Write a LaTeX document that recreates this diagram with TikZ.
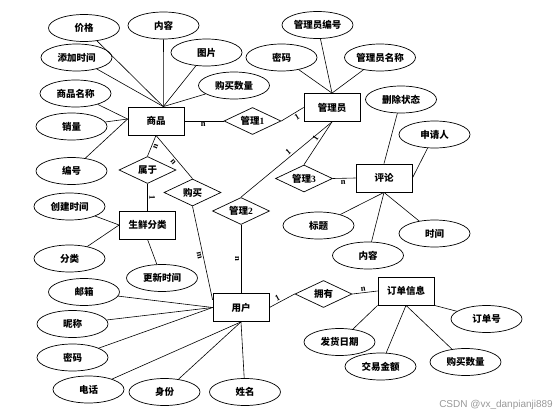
\documentclass[tikz,border=0pt]{standalone}
\usepackage{fontspec}
\setmainfont{Liberation Serif}
\newfontfamily\cjk{Noto Sans CJK SC}
\newfontfamily\wmfont{Liberation Sans}
\usetikzlibrary{shapes.geometric}
\begin{document}
\begin{tikzpicture}[x=1pt,y=-1pt,
 lbl/.style={font=\cjk\bfseries\fontsize{9.5}{10}\selectfont},
 ent/.style={lbl, draw, line width=0.8pt, minimum width=56pt, minimum height=28pt, inner sep=0pt},
 rel/.style={lbl, draw, diamond, aspect=2, line width=0.7pt, minimum width=57pt, minimum height=27pt, inner sep=0pt},
 att/.style={lbl, draw, ellipse, line width=0.7pt, minimum width=71pt, minimum height=27pt, inner sep=0pt},
 lnk/.style={line width=0.6pt},
 card/.style={font=\bfseries\fontsize{8.5}{9}\selectfont, inner sep=1.5pt, sloped}
]
\fill[white] (0,0) rectangle (556,417);
\useasboundingbox (0,0) rectangle (556,417);

% entities
\node[ent] (sp) at (156,121) {商品};
\node[ent] (mgr) at (332,107.5) {管理员};
\node[ent] (cmt) at (384,178) {评论};
\node[ent] (cat) at (147.5,225) {生鲜分类};
\node[ent] (user) at (241,307.5) {用户};
\node[ent] (order) at (406,291) {订单信息};

% relations
\node[rel] (r1) at (252.5,121) {管理{\rmfamily 1}};
\node[rel] (rs) at (147.5,170) {属于};
\node[rel] (rb) at (192.5,192.5) {购买};
\node[rel] (r2) at (241,211) {管理{\rmfamily 2}};
\node[rel] (r3) at (304,178.5) {管理{\rmfamily 3}};
\node[rel] (ry) at (323.5,294) {拥有};

% attributes of 商品
\node[att] (a1) at (84,28) {价格};
\node[att] (a2) at (163.5,25.5) {内容};
\node[att] (a3) at (76.5,57.5) {添加时间};
\node[att] (a4) at (206.5,52.5) {图片};
\node[att] (a5) at (234,85.5) {购买数量};
\node[att] (a6) at (75.5,93.5) {商品名称};
\node[att] (a7) at (71.5,126.5) {销量};
\node[att] (a8) at (71.5,171) {编号};
% attributes of 生鲜分类
\node[att] (c1) at (69.5,206.5) {创建时间};
\node[att] (c2) at (69.5,258.5) {分类};
\node[att] (c3) at (162,278) {更新时间};
% attributes of 用户
\node[att] (u1) at (84,292) {邮箱};
\node[att] (u2) at (72.5,324) {昵称};
\node[att] (u3) at (72.5,357.5) {密码};
\node[att] (u4) at (88.5,389.5) {电话};
\node[att] (u5) at (164.5,392) {身份};
\node[att] (u6) at (245,392) {姓名};
% attributes of 管理员
\node[att] (m1) at (317.5,25) {管理员编号};
\node[att] (m2) at (281.5,57.5) {密码};
\node[att] (m3) at (380,57.5) {管理员名称};
% attributes of 评论
\node[att] (p1) at (401,99.5) {删除状态};
\node[att] (p2) at (434.5,134.5) {申请人};
\node[att] (p3) at (318.5,225.5) {标题};
\node[att] (p4) at (368,255.5) {内容};
\node[att] (p5) at (434.5,233.5) {时间};
% attributes of 订单信息
\node[att] (o1) at (486.5,319) {订单号};
\node[att] (o2) at (339.5,342) {发货日期};
\node[att] (o3) at (380.5,366.5) {交易金额};
\node[att] (o4) at (465.5,362) {购买数量};

% attribute links
\foreach \a in {a1,a2,a3,a4,a5} \draw[lnk] (\a) -- (sp.63);
\foreach \a in {a6,a7,a8} \draw[lnk] (\a) -- (sp.176);
\foreach \a in {c1,c2} \draw[lnk] (\a) -- (cat.west);
\draw[lnk] (c3) -- (cat.south);
\foreach \a in {u1,u2,u3} \draw[lnk] (\a) -- (user.west);
\foreach \a in {u4,u5,u6} \draw[lnk] (\a) -- (user.south);
\foreach \a in {m1,m2,m3} \draw[lnk] (\a) -- (mgr.north);
\draw[lnk] (p1) -- (cmt.north);
\draw[lnk] (p2) -- (cmt.east);
\foreach \a in {p3,p4,p5} \draw[lnk] (\a) -- (cmt.south);
\draw[lnk] (o1) -- (order.south east);
\draw[lnk] (o2) -- (order.south west);
\draw[lnk] (o3) -- (order.south);
\draw[lnk] (o4) -- (order.south);

% relationship links
\draw[lnk] (sp.east) -- node[card, below, pos=0.48] {n} (r1.west);
\draw[lnk] (r1.east) -- node[card, below, pos=0.6] {1} (mgr.west);
\draw[lnk] (rs.north) -- node[card, below, pos=0.55] {n} (sp.south);
\draw[lnk] (sp.south) -- node[card, below, pos=0.55] {n} (rb.north);
\draw[lnk] (r3.north) -- node[card, above, pos=0.55] {1} (mgr.south);
\draw[lnk] (r2.north) -- node[card, above, pos=0.55] {1} (mgr.south);
\draw[lnk] (r3.east) -- node[card, below, pos=0.45] {n} (cmt.west);
\draw[lnk] (r2.south) -- node[card, below, pos=0.5] {n} (user.north);
\draw[lnk] (rb.south) -- node[card, below, pos=0.52] {m} (user.165);
\draw[lnk] (rs.south) -- node[card, above, pos=0.5] {1} (cat.north);
\draw[lnk] (user.east) -- node[card, above, pos=0.4] {1} (ry.west);
\draw[lnk] (ry.east) -- node[card, above, pos=0.45] {n} (order.west);

% watermark
\node[text=black!40, font=\wmfont\fontsize{10}{11}\selectfont, anchor=east, inner sep=0pt] (wm) at (553,405) {CSDN @vx\_danpianji889};
\end{tikzpicture}
\end{document}
